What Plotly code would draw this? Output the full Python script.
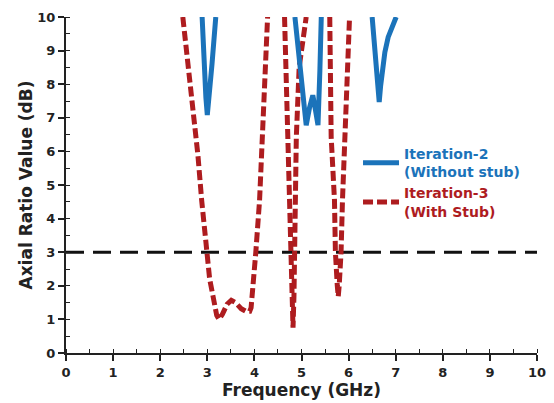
import plotly.graph_objects as go

# ---- data ----
# Iteration-3 (With Stub): three resonance segments, separated by gaps
it3_seg1_x = [2.48, 2.58, 2.69, 2.80, 2.88, 2.98, 3.05, 3.12, 3.20, 3.25, 3.32, 3.42, 3.51, 3.60, 3.72, 3.82, 3.90, 3.93, 3.97, 4.03, 4.11, 4.20, 4.28]
it3_seg1_y = [10.0, 8.70, 7.50, 5.90, 4.55, 3.00, 2.20, 1.70, 1.12, 1.00, 1.15, 1.45, 1.57, 1.50, 1.32, 1.24, 1.24, 1.35, 1.90, 3.00, 4.55, 7.50, 10.0]
it3_seg2_x = [4.64, 4.68, 4.71, 4.75, 4.78, 4.80, 4.82, 4.84, 4.86, 4.88, 4.89, 4.95, 5.10]
it3_seg2_y = [10.0, 8.00, 6.43, 4.55, 3.00, 1.70, 0.75, 1.70, 3.00, 4.55, 6.43, 8.50, 10.0]
it3_seg3_x = [5.60, 5.63, 5.70, 5.72, 5.76, 5.78, 5.80, 5.84, 5.87, 5.92, 6.02]
it3_seg3_y = [10.0, 6.43, 4.55, 3.00, 2.00, 1.68, 2.00, 3.00, 4.55, 6.43, 10.0]

# Iteration-2 (Without stub)
it2_seg1_x = [2.89, 2.93, 2.97, 3.00, 3.04, 3.10, 3.18]
it2_seg1_y = [10.0, 8.60, 7.60, 7.08, 7.60, 8.60, 10.0]
it2_seg2_x = [4.86, 4.95, 5.03, 5.10, 5.17, 5.24, 5.30, 5.35, 5.39, 5.42]
it2_seg2_y = [10.0, 8.90, 7.80, 6.78, 7.30, 7.67, 7.20, 6.78, 8.40, 10.0]
it2_seg3_x = [6.50, 6.55, 6.60, 6.65, 6.68, 6.72, 6.77, 6.84, 6.92, 7.01]
it2_seg3_y = [10.0, 9.15, 8.30, 7.47, 7.95, 8.50, 8.95, 9.40, 9.72, 10.0]

# 3 dB reference line
ref_x = [0, 10]
ref_y = [3, 3]

x_ticks = [0, 1, 2, 3, 4, 5, 6, 7, 8, 9, 10]
y_ticks = [0, 1, 2, 3, 4, 5, 6, 7, 8, 9, 10]

BLUE = "#1B73BA"
RED = "#AE1C1F"
FONT = "DejaVu Sans, Arial, sans-serif"
INK = "#222222"


def join(*segs):
    out = []
    for i, s in enumerate(segs):
        if i:
            out.append(None)
        out.extend(s)
    return out


it3_x = join(it3_seg1_x, it3_seg2_x, it3_seg3_x)
it3_y = join(it3_seg1_y, it3_seg2_y, it3_seg3_y)
it2_x = join(it2_seg1_x, it2_seg2_x, it2_seg3_x)
it2_y = join(it2_seg1_y, it2_seg2_y, it2_seg3_y)

fig = go.Figure()

fig.add_trace(go.Scatter(
    x=ref_x, y=ref_y, mode="lines", showlegend=False, hoverinfo="skip",
    line=dict(color="#111111", width=3, dash="18px,9px"),
))

fig.add_trace(go.Scatter(
    x=it3_x, y=it3_y, mode="lines", connectgaps=False, legendrank=2,
    name=f"<span style='color:{RED}'>Iteration-3<br>(With Stub)</span>",
    line=dict(color=RED, width=5, dash="10px,4px"),
))

fig.add_trace(go.Scatter(
    x=it2_x, y=it2_y, mode="lines", connectgaps=False, legendrank=1,
    name=f"<span style='color:{BLUE}'>Iteration-2<br>(Without stub)</span>",
    line=dict(color=BLUE, width=5),
))

axis_common = dict(
    showline=True, linecolor=INK, linewidth=2,
    showgrid=False, zeroline=False, mirror=False, automargin=False,
    ticks="outside", ticklen=6, tickwidth=1.5, tickcolor=INK,
    tickfont=dict(family=FONT, size=13, color=INK, weight="bold"),
    minor=dict(ticks="inside", ticklen=4, tickwidth=1.2, tickcolor=INK, dtick=0.5, showgrid=False),
    range=[0, 10], tickmode="array",
)

fig.update_xaxes(
    **axis_common, tickvals=x_ticks, ticktext=[str(v) for v in x_ticks],
    title=dict(text="Frequency (GHz)", standoff=3,
               font=dict(family=FONT, size=17, color=INK, weight="bold")),
)
fig.update_yaxes(
    **axis_common, tickvals=y_ticks, ticktext=[str(v) for v in y_ticks],
    title=dict(text="Axial Ratio Value (dB)", standoff=0,
               font=dict(family=FONT, size=17, color=INK, weight="bold")),
)

fig.update_layout(
    width=554, height=403,
    margin=dict(l=66, r=17, t=17, b=50),
    plot_bgcolor="white", paper_bgcolor="white",
    legend=dict(
        x=0.62, y=0.64, xanchor="left", yanchor="top",
        bgcolor="rgba(0,0,0,0)", borderwidth=0,
        font=dict(family=FONT, size=14, weight="bold"),
        tracegroupgap=0, itemwidth=36,
    ),
)

fig.write_html("out.html", config={"displayModeBar": False},
               post_script="document.body.style.margin='0px';")
